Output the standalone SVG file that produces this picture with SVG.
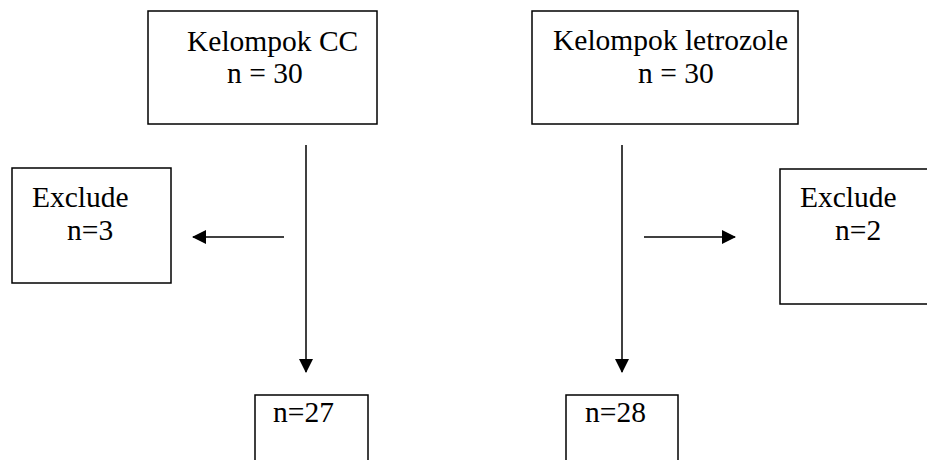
<svg xmlns="http://www.w3.org/2000/svg" width="927" height="460" viewBox="0 0 927 460">
<style>
.box{fill:#fff;stroke:#000;stroke-width:1.5}
.t{font-family:"Liberation Serif","Times New Roman",serif;font-size:29.5px;fill:#000}
.ln{stroke:#000;stroke-width:1.5;fill:none}
</style>
<defs>
<marker id="ah" markerWidth="14" markerHeight="14" refX="13" refY="7" orient="auto" markerUnits="userSpaceOnUse">
<path d="M0,0 L14,7 L0,14 Z" fill="#000"/>
</marker>
</defs>
<rect width="927" height="460" fill="#fff"/>
<g id="cc">
<rect class="box" x="148" y="11" width="229" height="113"/>
<text class="t" x="187" y="51">Kelompok CC</text>
<text class="t" x="227" y="83">n = 30</text>
</g>
<g id="letrozole">
<rect class="box" x="532" y="11" width="266" height="113"/>
<text class="t" x="553" y="50">Kelompok letrozole</text>
<text class="t" x="638" y="83">n = 30</text>
</g>
<g id="exclude3">
<rect class="box" x="12" y="168" width="159" height="115"/>
<text class="t" x="32" y="207">Exclude</text>
<text class="t" x="67" y="240">n=3</text>
</g>
<g id="exclude2">
<rect class="box" x="780" y="169" width="160" height="135"/>
<text class="t" x="800" y="207">Exclude</text>
<text class="t" x="835" y="240">n=2</text>
</g>
<g id="n27">
<rect class="box" x="255" y="395" width="113" height="80"/>
<text class="t" x="273" y="422">n=27</text>
</g>
<g id="n28">
<rect class="box" x="566" y="395" width="112" height="80"/>
<text class="t" x="585" y="422">n=28</text>
</g>
<g id="connectors">
<line class="ln" x1="306" y1="145" x2="306" y2="372" marker-end="url(#ah)"/>
<line class="ln" x1="284" y1="237" x2="193" y2="237" marker-end="url(#ah)"/>
<line class="ln" x1="622" y1="145" x2="622" y2="372" marker-end="url(#ah)"/>
<line class="ln" x1="644" y1="237" x2="735" y2="237" marker-end="url(#ah)"/>
</g>
</svg>
